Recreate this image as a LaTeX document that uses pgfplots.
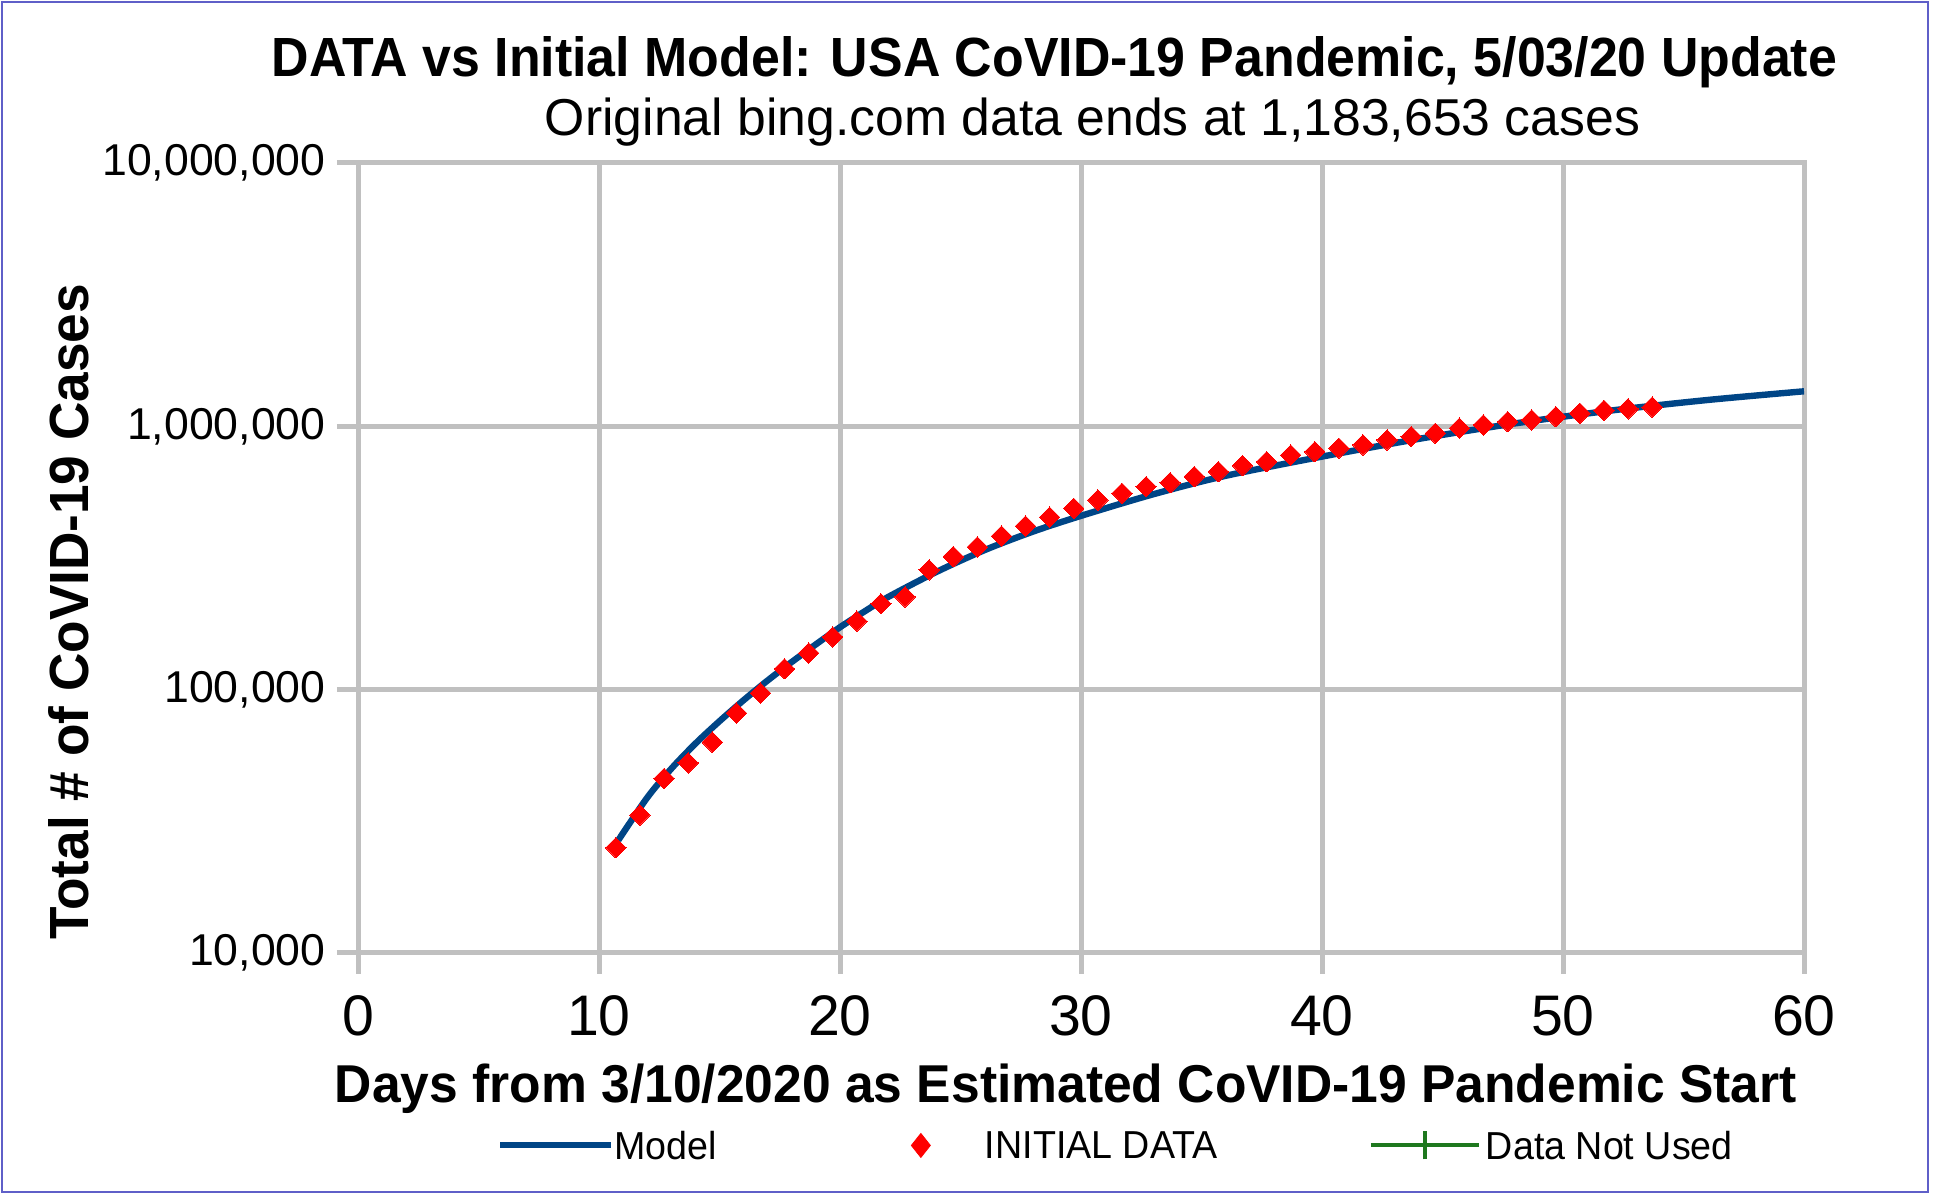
\documentclass[border=0pt]{standalone}
\usepackage{pgfplots}
\pgfplotsset{compat=1.18}
\usepackage{fontspec}
\usepackage{graphicx}
\setmainfont{Liberation Sans}
\newfontfamily\legfont[FakeStretch=0.965]{Liberation Sans}
\definecolor{modelblue}{RGB}{0,69,134}
\definecolor{gridgray}{RGB}{192,192,192}
\definecolor{framec}{RGB}{95,95,200}
\definecolor{dgreen}{RGB}{30,120,30}

\pgfplotstableread{
x y
10.7 25100
11.7 33400
12.7 46000
13.7 52700
14.7 63200
15.7 81500
16.7 97000
17.7 120000
18.7 137700
19.7 158500
20.7 182000
21.7 212000
22.7 225000
23.7 285000
24.7 320000
25.7 348000
26.7 383000
27.7 418000
28.7 452000
29.7 488000
30.7 525000
31.7 557000
32.7 590000
33.7 611000
34.7 644000
35.7 673000
36.7 710000
37.7 734000
38.7 778000
39.7 801000
40.7 826000
41.7 850000
42.7 888000
43.7 914000
44.7 941000
45.7 984000
46.7 1012000
47.7 1042000
48.7 1057000
49.7 1088000
50.7 1121000
51.7 1150000
52.7 1165000
53.7 1183653
}\datatable

\pgfplotstableread{
x y
10.8 26800
12 38900
13 50100
14 62400
15 75900
16 91200
17 108400
18 127400
19 148600
20 172600
21 197700
22 224900
24 279900
26 338800
28 398100
30 457100
33 552100
36 648600
40 767400
44 895400
48 1025600
52 1148200
56 1258900
60 1358300
}\modeltable

\begin{document}
\begin{tikzpicture}
\useasboundingbox (0,0) rectangle (968.5pt,597pt);
\draw[framec, line width=1pt] (1pt,1pt) rectangle (964pt,596pt);
\begin{axis}[
  at={(179pt,120.5pt)}, anchor=south west,
  scale only axis, width=723pt, height=395pt,
  xmin=0, xmax=60, ymin=1e4, ymax=1e7, ymode=log,
  xtick={0,10,20,30,40,50,60}, xticklabels={0,10,20,30,40,50,60},
  ytick={1e4,1e5,1e6,1e7},
  yticklabels={{10,000},{100,000},{1,000,000},{10,000,000}},
  yminorticks=false, xminorticks=false,
  grid=major,
  major grid style={gridgray, line width=2.5pt},
  axis line style={gridgray, line width=2.5pt},
  tick style={gridgray, line width=2.5pt},
  major tick length=10.5pt, tick align=outside,
  xtick pos=bottom, ytick pos=left,
  xticklabel style={font=\fontsize{28.6}{30}\selectfont, inner sep=0pt, anchor=north, yshift=-10.5pt},
  yticklabel style={font=\fontsize{22.3}{24}\selectfont, inner sep=0pt, anchor=east, xshift=-5.5pt},
  legend columns=3,
  legend cell align=left,
  legend style={at={(0.0961,-0.244)}, anchor=west, draw=none, fill=none,
    inner sep=0pt, font=\legfont\fontsize{19.5}{21}\selectfont,
    nodes={inner sep=0pt},
    /tikz/every odd column/.append style={column sep=0pt},
    /tikz/every even column/.append style={column sep=0pt}},
]
\addlegendimage{legend image code/.code={\draw[modelblue, line width=3pt] (0pt,0.5pt) -- (55.5pt,0.5pt);}}
\addlegendentry{\makebox[125.5pt][l]{Model}}
\addlegendimage{legend image code/.code={\path[draw=none] (0pt,0.5pt) -- (59.8pt,0.5pt); \fill[red] (27.75pt,6.5pt) -- (32.5pt,0.5pt) -- (27.75pt,-5.5pt) -- (23pt,0.5pt) -- cycle;}}
\addlegendentry{\makebox[192pt][l]{INITIAL DATA}}
\addlegendimage{legend image code/.code={\path[draw=none] (0pt,0.5pt) -- (57.5pt,0.5pt); \draw[dgreen, line width=2pt] (0pt,0.5pt) -- (54pt,0.5pt); \draw[dgreen, line width=2pt] (27pt,-6.5pt) -- (27pt,7.5pt);}}
\addlegendentry{Data Not Used}
\addplot[forget plot, only marks, mark=square*, mark size=3.6pt,
  mark options={rotate=45, fill=red, draw=red, line width=0pt}] table[x=x,y=y] {\datatable};
\addplot[forget plot, modelblue, line width=3.2pt, smooth, tension=0.5] table[x=x,y=y] {\modeltable};
\end{axis}
\node[anchor=base, inner sep=0pt] at (527.25pt,558.5pt) {\resizebox{782.5pt}{20pt}{\bfseries DATA vs Initial Model: USA CoVID-19 Pandemic, 5/03/20 Update}};
\node[anchor=base, inner sep=0pt] at (546.25pt,529pt) {\resizebox{547.5pt}{18.8pt}{Original bing.com data ends at 1,183,653 cases}};
\node[anchor=base, inner sep=0pt] at (533pt,46pt) {\resizebox{731pt}{19.3pt}{\bfseries Days from 3/10/2020 as Estimated CoVID-19 Pandemic Start}};
\node[rotate=90, anchor=base, inner sep=0pt] at (44pt,291.25pt) {\resizebox{327.5pt}{20pt}{\bfseries Total \# of CoVID-19 Cases}};
\end{tikzpicture}
\end{document}
